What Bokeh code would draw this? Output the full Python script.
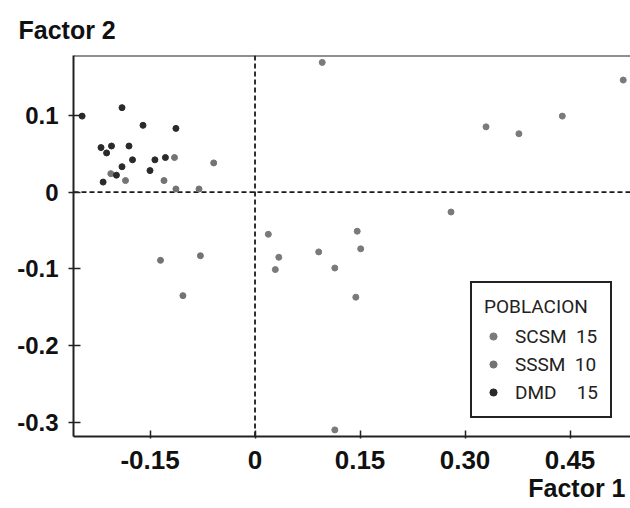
from bokeh.plotting import figure
from bokeh.models import Range1d, Span, Legend, LegendItem, Title, FixedTicker
from bokeh.embed import file_html
from bokeh.resources import INLINE

# ---- data ----
scsm_f1 = [0.096, 0.526, 0.330, 0.377, 0.439, 0.280, 0.019, 0.146, 0.034, 0.151,
           0.091, 0.029, 0.114, 0.144, 0.114]
scsm_f2 = [0.169, 0.146, 0.085, 0.076, 0.099, -0.026, -0.055, -0.051, -0.085, -0.074,
           -0.078, -0.101, -0.099, -0.137, -0.310]

sssm_f1 = [-0.206, -0.185, -0.130, -0.115, -0.059, -0.113, -0.080, -0.135, -0.078, -0.103]
sssm_f2 = [0.024, 0.015, 0.015, 0.045, 0.038, 0.004, 0.004, -0.089, -0.083, -0.135]

dmd_f1 = [-0.247, -0.190, -0.160, -0.113, -0.220, -0.212, -0.205, -0.180, -0.175, -0.190,
          -0.143, -0.128, -0.150, -0.198, -0.217]
dmd_f2 = [0.099, 0.110, 0.087, 0.083, 0.058, 0.051, 0.060, 0.060, 0.042, 0.033,
          0.042, 0.045, 0.028, 0.022, 0.013]

groups = ["SCSM", "SSSM", "DMD"]
group_counts = [15, 10, 15]
legend_title = "POBLACION"

x_ticks = [-0.15, 0, 0.15, 0.30, 0.45]
x_tick_labels = ["-0.15", "0", "0.15", "0.30", "0.45"]
y_ticks = [-0.3, -0.2, -0.1, 0, 0.1]
y_tick_labels = ["-0.3", "-0.2", "-0.1", "0", "0.1"]

x_title = "Factor 1"
y_title = "Factor 2"

x_min, x_max = -0.2593, 0.5364
y_min, y_max = -0.3186, 0.178

# ---- figure ----
p = figure(width=630, height=508, output_backend="svg", toolbar_location=None,
           x_range=Range1d(x_min, x_max), y_range=Range1d(y_min, y_max),
           min_border_left=73, min_border_right=0, min_border_top=55, min_border_bottom=72)
p.outline_line_color = None
p.grid.visible = False
p.background_fill_color = "white"
p.border_fill_color = "white"

FONT = "Liberation Sans"

xa = p.below[0]
ya = p.left[0]

# "Factor 2" at the top-left
p.title.text = y_title
p.title.align = "left"
p.title.offset = -55
p.title.standoff = 24
p.title.text_font = FONT
p.title.text_font_size = "25px"
p.title.text_font_style = "bold"
p.title.text_color = "#111111"

xa.ticker = FixedTicker(ticks=x_ticks)
ya.ticker = FixedTicker(ticks=y_ticks)
xa.major_label_overrides = {v: s for v, s in zip(x_ticks, x_tick_labels)}
ya.major_label_overrides = {v: s for v, s in zip(y_ticks, y_tick_labels)}
for ax in (xa, ya):
    ax.axis_line_width = 2
    ax.axis_line_color = "#222222"
    ax.major_tick_line_width = 1.5
    ax.major_tick_line_color = "#222222"
    ax.minor_tick_line_color = None
    ax.major_label_text_font = FONT
    ax.major_label_text_font_style = "bold"
    ax.major_label_text_color = "#111111"
xa.major_label_text_font_size = "26px"
ya.major_label_text_font_size = "24px"
xa.major_tick_in = 6
xa.major_tick_out = 2
xa.major_label_standoff = 12
ya.major_tick_in = 7
ya.major_tick_out = 5
ya.major_label_standoff = 10

# "Factor 1" at the bottom-right
p.add_layout(Title(text=x_title, align="right", offset=5, standoff=0,
                   text_font=FONT, text_font_size="25px", text_font_style="bold",
                   text_color="#111111"), "below")

# top frame line
p.add_layout(Span(location=y_max, dimension="width", line_width=2, line_color="#222222"))

# dashed reference lines
for dim in ("height", "width"):
    p.add_layout(Span(location=0, dimension=dim, line_dash="5 3", line_width=1.8,
                      line_color="#1a1a1a", level="underlay"))

# points
colors = ["#7a7a7a", "#737373", "#2a2a2a"]
r_scsm = p.scatter(scsm_f1, scsm_f2, size=6, marker="circle", color=colors[0])
r_sssm = p.scatter(sssm_f1, sssm_f2, size=6, marker="circle", color=colors[1])
r_dmd = p.scatter(dmd_f1, dmd_f2, size=6, marker="circle", color=colors[2])

NB = "\u00a0"
labels = [f"{groups[0]}{NB}{NB}{group_counts[0]}",
          f"{groups[1]}{NB}{NB}{group_counts[1]}",
          f"{groups[2]}\u2007{NB}{NB}{group_counts[2]}"]
legend = Legend(items=[LegendItem(label=labels[0], renderers=[r_scsm]),
                       LegendItem(label=labels[1], renderers=[r_sssm]),
                       LegendItem(label=labels[2], renderers=[r_dmd])],
                location=(397, 18), title=legend_title)
legend.title_text_font = "Roboto"
legend.title_text_font_size = "19px"
legend.title_text_font_style = "normal"
legend.title_text_color = "#222222"
legend.title_standoff = 6
legend.label_text_font = "Roboto"
legend.label_text_font_size = "19px"
legend.label_text_color = "#222222"
legend.padding = 12
legend.margin = 0
legend.spacing = 4
legend.label_height = 24
legend.glyph_height = 24
legend.glyph_width = 18
legend.label_standoff = 13
legend.border_line_color = "#222222"
legend.border_line_alpha = 1
legend.border_line_width = 2
legend.background_fill_color = "white"
legend.background_fill_alpha = 1
p.add_layout(legend)

open("out.html", "w").write(file_html(p, INLINE))
